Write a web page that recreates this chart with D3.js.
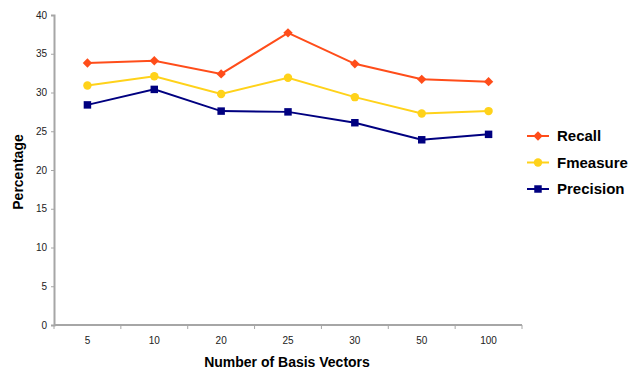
<!DOCTYPE html>
<html>
<head>
<meta charset="utf-8">
<script src="https://cdn.jsdelivr.net/npm/d3@7"></script>
<style>
  html, body { margin: 0; padding: 0; background: #fff; }
  svg { display: block; font-family: "Liberation Sans", Arial, sans-serif; }
</style>
</head>
<body>
<svg id="chart" width="632" height="369"></svg>
<script>
// Basis-vector counts along the x axis
const categories = ["5", "10", "20", "25", "30", "50", "100"];

// Percentages per measure
const recall    = [33.8, 34.1, 32.4, 37.7, 33.7, 31.7, 31.4];
const fmeasure  = [30.9, 32.1, 29.8, 31.9, 29.4, 27.3, 27.6];
const precision = [28.4, 30.4, 27.6, 27.5, 26.1, 23.9, 24.6];

const yTicks = [0, 5, 10, 15, 20, 25, 30, 35, 40];

const seriesNames = ["Recall", "Fmeasure", "Precision"];

// Marker shapes: a square turned 45 degrees gives the diamond
const series = [
  { name: seriesNames[0], values: recall,    color: "#ff4d1a", symbol: d3.symbolSquare, size: 44, rotate: 45 },
  { name: seriesNames[1], values: fmeasure,  color: "#ffd21a", symbol: d3.symbolCircle, size: 56, rotate: 0 },
  { name: seriesNames[2], values: precision, color: "#000080", symbol: d3.symbolSquare, size: 56, rotate: 0 }
];

const svg = d3.select("#chart");
const plot = { left: 54, right: 522, top: 15, bottom: 325 };

const x = d3.scaleBand().domain(categories).range([plot.left, plot.right]);
const y = d3.scaleLinear().domain([0, 40]).range([plot.bottom, plot.top]);

const axisColor = "#a6a6a6";

// y axis
const yAxis = svg.append("g")
  .attr("transform", `translate(${plot.left},0)`)
  .call(d3.axisLeft(y).tickValues(yTicks).tickSize(3).tickPadding(4));
yAxis.select(".domain").attr("stroke", axisColor).attr("stroke-width", 2);
yAxis.selectAll(".tick line").attr("stroke", axisColor);
yAxis.selectAll("text").attr("font-size", 10).attr("fill", "#222");

// x axis: ticks sit on band boundaries, labels in band centres
const xAxisG = svg.append("g").attr("transform", `translate(0,${plot.bottom})`);
xAxisG.append("line")
  .attr("x1", plot.left).attr("x2", plot.right)
  .attr("stroke", axisColor).attr("stroke-width", 2);
const bounds = categories.map(c => x(c)).concat([plot.right]);
xAxisG.selectAll("line.tk").data(bounds).join("line")
  .attr("class", "tk")
  .attr("x1", d => d).attr("x2", d => d)
  .attr("y1", 0).attr("y2", 4)
  .attr("stroke", axisColor);
xAxisG.selectAll("text").data(categories).join("text")
  .attr("x", d => x(d) + x.bandwidth() / 2)
  .attr("y", 19)
  .attr("text-anchor", "middle")
  .attr("font-size", 10)
  .attr("fill", "#222")
  .text(d => d);

// axis titles
svg.append("text")
  .attr("x", 287).attr("y", 367)
  .attr("text-anchor", "middle")
  .attr("font-size", 14).attr("font-weight", "bold")
  .text("Number of Basis Vectors");

svg.append("text")
  .attr("transform", "translate(23,172) rotate(-90)")
  .attr("text-anchor", "middle")
  .attr("font-size", 14).attr("font-weight", "bold")
  .text("Percentage");

// series lines and markers
const line = d3.line()
  .x((d, i) => x(categories[i]) + x.bandwidth() / 2)
  .y(d => y(d));

series.forEach(s => {
  const g = svg.append("g");
  g.append("path")
    .datum(s.values)
    .attr("d", line)
    .attr("fill", "none")
    .attr("stroke", s.color)
    .attr("stroke-width", 2);
  g.selectAll("path.m").data(s.values).join("path")
    .attr("class", "m")
    .attr("transform", (d, i) => `translate(${x(categories[i]) + x.bandwidth() / 2},${y(d)}) rotate(${s.rotate})`)
    .attr("d", d3.symbol().type(s.symbol).size(s.size))
    .attr("fill", s.color);
});

// legend
const legend = svg.append("g").attr("transform", "translate(527,136)");
series.forEach((s, i) => {
  const row = legend.append("g").attr("transform", `translate(0,${i * 26.5})`);
  row.append("line").attr("x1", 0).attr("x2", 22).attr("stroke", s.color).attr("stroke-width", 2);
  row.append("path")
    .attr("transform", `translate(11,0) rotate(${s.rotate})`)
    .attr("d", d3.symbol().type(s.symbol).size(s.size))
    .attr("fill", s.color);
  row.append("text")
    .attr("x", 30).attr("y", 5)
    .attr("font-size", 15).attr("font-weight", "bold")
    .attr("fill", "#000")
    .text(s.name);
});
</script>
</body>
</html>
